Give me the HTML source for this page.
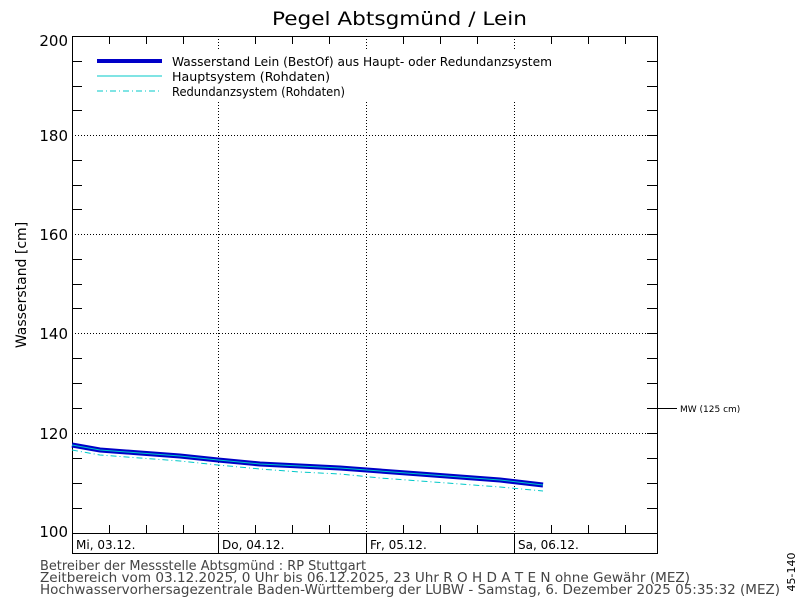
<!DOCTYPE html>
<html><head><meta charset="utf-8"><style>body{margin:0;background:#fff}svg{display:block;font-family:"DejaVu Sans","Liberation Sans",sans-serif}</style></head><body>
<svg width="800" height="600" viewBox="0 0 800 600" xmlns="http://www.w3.org/2000/svg">
<rect width="800" height="600" fill="#fff"/>
<text x="272" y="25" font-size="19" textLength="255" lengthAdjust="spacingAndGlyphs">Pegel Abtsgmünd / Lein</text>
<g stroke="#000" stroke-width="1" stroke-dasharray="1,2">
<line x1="72" y1="135.5" x2="657" y2="135.5"/><line x1="72" y1="234.5" x2="657" y2="234.5"/><line x1="72" y1="333.5" x2="657" y2="333.5"/><line x1="72" y1="433.5" x2="657" y2="433.5"/>
<line x1="218.5" y1="36" x2="218.5" y2="533"/><line x1="366.5" y1="36" x2="366.5" y2="533"/><line x1="514.5" y1="36" x2="514.5" y2="533"/>
</g>
<g stroke="#000" stroke-width="1">
<rect x="72.5" y="36.5" width="585" height="497" fill="none"/>
<rect x="72.5" y="533.5" width="585" height="20" fill="none"/>
<line x1="218.5" y1="533" x2="218.5" y2="553"/><line x1="366.5" y1="533" x2="366.5" y2="553"/><line x1="514.5" y1="533" x2="514.5" y2="553"/>
<path d="M72 61.5h10M72 86.5h10M72 110.5h10M72 160.5h10M72 185.5h10M72 209.5h10M72 259.5h10M72 284.5h10M72 308.5h10M72 358.5h10M72 383.5h10M72 408.5h10M72 458.5h10M72 483.5h10M72 508.5h10
M657 61.5h-10M657 86.5h-10M657 110.5h-10M657 135.5h-10M657 160.5h-10M657 185.5h-10M657 209.5h-10M657 234.5h-10M657 259.5h-10M657 284.5h-10M657 308.5h-10M657 333.5h-10M657 358.5h-10M657 383.5h-10M657 408.5h-10M657 433.5h-10M657 458.5h-10M657 483.5h-10M657 508.5h-10"/>
<path d="M109.5 36v8M146.5 36v8M183.5 36v8M255.5 36v8M292.5 36v8M329.5 36v8M403.5 36v8M440.5 36v8M477.5 36v8M551.5 36v8M588.5 36v8M625.5 36v8
M109.5 533v-8M146.5 533v-8M183.5 533v-8M255.5 533v-8M292.5 533v-8M329.5 533v-8M403.5 533v-8M440.5 533v-8M477.5 533v-8M551.5 533v-8M588.5 533v-8M625.5 533v-8"/>
<line x1="657" y1="408.5" x2="677" y2="408.5"/>
</g>
<g font-size="15" text-anchor="end"><text x="68" y="46">200</text><text x="68" y="141">180</text><text x="68" y="240">160</text><text x="68" y="339">140</text><text x="68" y="439">120</text><text x="68" y="537">100</text></g>
<text transform="translate(26,285) rotate(-90)" font-size="14" text-anchor="middle">Wasserstand [cm]</text>
<g font-size="12"><text x="76" y="549">Mi, 03.12.</text><text x="222" y="549">Do, 04.12.</text><text x="370" y="549">Fr, 05.12.</text><text x="518" y="549">Sa, 06.12.</text></g>
<text x="680" y="412" font-size="9">MW (125 cm)</text>
<rect x="92" y="50" width="470" height="50" fill="#fff"/>
<line x1="97" y1="61" x2="162" y2="61" stroke="#0000c8" stroke-width="4"/>
<line x1="97" y1="76" x2="162" y2="76" stroke="#00c8c8" stroke-width="1"/>
<line x1="97" y1="91" x2="162" y2="91" stroke="#00c8c8" stroke-width="1" stroke-dasharray="6,3,1,3"/>
<g font-size="12"><text x="172" y="66" textLength="380" lengthAdjust="spacingAndGlyphs">Wasserstand Lein  (BestOf)  aus Haupt- oder Redundanzsystem</text><text x="172" y="81" textLength="158" lengthAdjust="spacingAndGlyphs">Hauptsystem (Rohdaten)</text><text x="172" y="96" textLength="173" lengthAdjust="spacingAndGlyphs">Redundanzsystem (Rohdaten)</text></g>
<polyline fill="none" stroke="#00c8c8" stroke-width="1" stroke-dasharray="6,3,1,3" points="72,450 100,455 140,458 180,461 218,465 260,469 300,472 340,474 380,478 420,481 460,484 500,487 543,491"/>
<polyline fill="none" stroke="#0000c8" stroke-width="5" points="72,445 100,450 140,453 180,456 218,460 260,464 300,466 340,468 380,471 420,474 460,477 500,480 543,485"/>
<polyline fill="none" stroke="#00c8c8" stroke-width="1" points="72,445 100,450 140,453 180,456 218,460 260,464 300,466 340,468 380,471 420,474 460,477 500,480 543,485"/>
<g font-size="13" fill="#444"><text x="40" y="570" textLength="326" lengthAdjust="spacingAndGlyphs">Betreiber der Messstelle Abtsgmünd : RP Stuttgart</text><text x="40" y="582" textLength="650" lengthAdjust="spacingAndGlyphs">Zeitbereich vom 03.12.2025, 0 Uhr bis 06.12.2025, 23 Uhr    R O H D A T E N ohne Gewähr (MEZ)</text><text x="40" y="594" textLength="740" lengthAdjust="spacingAndGlyphs">Hochwasservorhersagezentrale Baden-Württemberg der LUBW - Samstag, 6. Dezember 2025 05:35:32 (MEZ)</text></g>
<text transform="translate(795,572) rotate(-90)" font-size="11" text-anchor="middle">45-140</text>
</svg>
</body></html>
